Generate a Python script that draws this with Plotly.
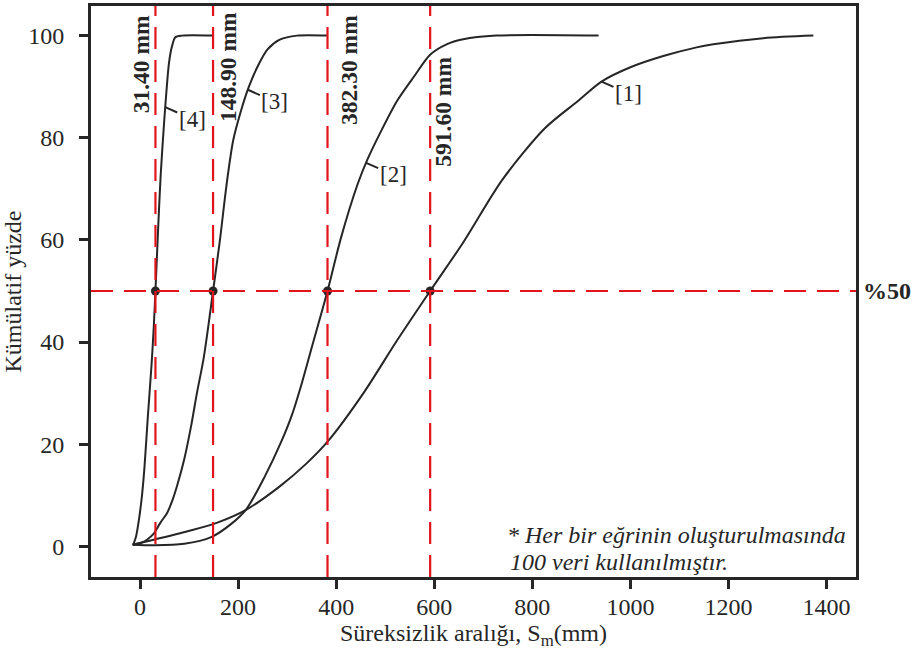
import numpy as np
import plotly.graph_objects as go

# ---- data ----
c1_x = [-15, 28, 103, 159, 217, 283, 338, 385, 457, 524, 591.6, 659, 739, 826, 893, 941, 1000, 1067, 1135, 1169, 1271, 1373]
c1_y = [0.3, 1.3, 3.1, 4.7, 7.2, 11.6, 16.1, 20.8, 30.2, 40.3, 50, 59.5, 71.8, 81.9, 87.2, 91, 93.8, 96, 97.7, 98.3, 99.5, 100]

c2_x = [-15, 30, 90, 145, 186, 217, 255, 288, 310, 330, 350, 382.3, 410, 444, 464, 491, 524, 558, 592, 625, 659, 726, 935]
c2_y = [0.3, 0.2, 0.5, 1.8, 4.4, 7.3, 13.8, 20.5, 25.8, 32, 38.9, 50, 60.5, 71, 75.8, 81.2, 87.2, 91.9, 96.3, 98.3, 99.3, 100, 100]

c3_x = [-15, 5, 14, 28, 42, 55, 66, 76, 90, 104, 116, 130, 148.9, 163, 176, 190, 205, 222, 240, 260, 285, 320, 382]
c3_y = [0.3, 0.8, 1.3, 2.5, 4.7, 6.5, 9, 12, 17, 23.5, 30, 37, 50, 60, 70.5, 79.5, 85, 90, 94, 97.3, 99.2, 100, 100]

c4_x = [-14, -8, -2, 4, 9, 16, 23.5, 28, 31.4, 35, 37, 42, 48.7, 54, 59, 64.6, 72, 86, 147]
c4_y = [0.3, 2, 5.4, 10, 15.4, 25.5, 35.6, 43, 50, 58, 62.4, 72.5, 82.5, 89.3, 94.6, 97.7, 99.7, 100, 100]

curves = [("[1]", c1_x, c1_y), ("[2]", c2_x, c2_y), ("[3]", c3_x, c3_y), ("[4]", c4_x, c4_y)]
medians = [31.4, 148.9, 382.3, 591.6]
median_labels = ["31.40 mm", "148.90 mm", "382.30 mm", "591.60 mm"]
label_levels = {"[1]": 91, "[2]": 75.1, "[3]": 89.4, "[4]": 86}
x_ticks = [0, 200, 400, 600, 800, 1000, 1200, 1400]
y_ticks = [0, 20, 40, 60, 80, 100]
pct_level = 50

FONT = "Liberation Serif, Times New Roman, serif"
RED = "#e3141c"
INK = "#262626"

fig = go.Figure()
for name, xs, ys in curves:
    fig.add_trace(go.Scatter(x=xs, y=ys, mode="lines", line=dict(color=INK, width=2, shape="spline", smoothing=0.8),
                             showlegend=False, hoverinfo="skip"))

# reference lines
for m in medians:
    fig.add_shape(type="line", xref="x", yref="paper", x0=m, x1=m, y0=0, y1=1,
                  line=dict(color=RED, width=2.2, dash="22px,11px"), layer="above")
fig.add_shape(type="line", xref="paper", yref="y", x0=0, x1=1, y0=pct_level, y1=pct_level,
              line=dict(color=RED, width=2.2, dash="22px,11px"), layer="above")

fig.add_trace(go.Scatter(x=medians, y=[pct_level] * len(medians), mode="markers",
                         marker=dict(color=INK, size=9), showlegend=False, hoverinfo="skip"))

ann = []
# median labels (rotated)
lab_pos = [("right", 0, 0.988), ("left", 0, 0.993), ("left", 7, 0.987), ("left", -3, 0.915)]
for m, txt, (xa, xs, yp) in zip(medians, median_labels, lab_pos):
    ann.append(dict(x=m, xref="x", y=yp, yref="paper", text="<b>%s</b>" % txt, textangle=-90,
                    showarrow=False, xanchor=xa, yanchor="top", xshift=xs,
                    font=dict(family=FONT, size=23.5, color=INK)))

# curve labels with leader lines
for name, xs, ys in curves:
    lv = label_levels[name]
    px = float(np.interp(lv, ys[:-1] if ys[-1] == ys[-2] else ys, xs[:-1] if ys[-1] == ys[-2] else xs))
    ann.append(dict(x=px, y=lv, xref="x", yref="y", text=name, showarrow=True, arrowhead=0,
                    arrowwidth=2, arrowcolor=INK, ax=27, ay=12, standoff=0,
                    font=dict(family=FONT, size=23, color=INK)))

ann.append(dict(x=1.006, xref="paper", y=pct_level, yref="y", text="<b>%50</b>", showarrow=False,
                xanchor="left", yanchor="middle", font=dict(family=FONT, size=24, color=INK)))
ann.append(dict(x=0.989, xref="paper", y=0.073, yref="paper", text="<i>* Her bir eğrinin oluşturulmasında</i>",
                showarrow=False, xanchor="right", yanchor="middle", font=dict(family=FONT, size=24, color=INK)))
ann.append(dict(x=0.545, xref="paper", y=0.027, yref="paper", text="<i>100 veri kullanılmıştır.</i>",
                showarrow=False, xanchor="left", yanchor="middle", font=dict(family=FONT, size=24, color=INK)))

axis_common = dict(showgrid=False, zeroline=False, showline=True, linecolor=INK, linewidth=3, mirror=True,
                   ticks="outside", ticklen=9, tickwidth=2.5, tickcolor=INK,
                   tickfont=dict(family=FONT, size=24, color=INK))

fig.update_layout(
    width=919, height=655, margin=dict(l=91, r=63, t=3, b=78),
    paper_bgcolor="white", plot_bgcolor="white",
    xaxis=dict(range=[-100, 1460], tickvals=x_ticks, ticklabelstandoff=-3,
               title=dict(text="Süreksizlik aralığı, S<sub>m</sub>(mm)", font=dict(family=FONT, size=24, color=INK), standoff=0),
               **axis_common),
    yaxis=dict(range=[-6, 105.8], tickvals=y_ticks, ticklabelstandoff=10,
               title=dict(text="Kümülatif yüzde", font=dict(family=FONT, size=24, color=INK), standoff=0),
               **axis_common),
    annotations=ann,
)

fig.write_html("out.html")
